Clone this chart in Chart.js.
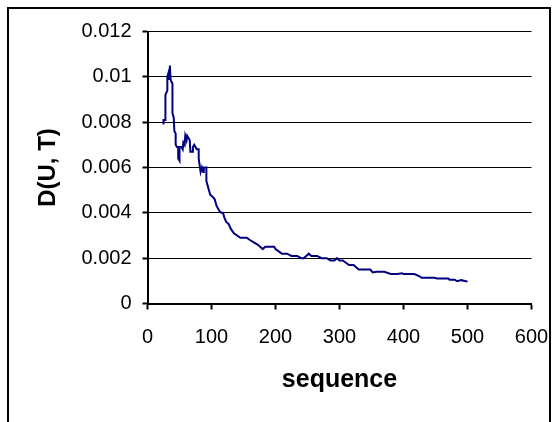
<!DOCTYPE html>
<html>
<head>
<meta charset="utf-8">
<script src="https://cdn.jsdelivr.net/npm/chart.js@4"></script>
<style>
  html, body { margin: 0; padding: 0; background: #fff; }
  #wrap { position: relative; width: 552px; height: 422px; }
</style>
</head>
<body>
<div id="wrap"><canvas id="myChart" width="552" height="422"></canvas></div>
<script>
// values
const seq = [25, 25, 28, 28, 31, 31, 33, 34, 35, 36, 37, 39, 39, 41, 42, 44, 44, 46, 48, 48,
  50, 50, 53, 55, 56, 58, 59, 61, 62, 64, 66, 67, 70, 71, 73, 75, 77, 80, 80, 82,
  83, 85, 87, 88, 92, 92, 94, 96, 98, 102, 105, 108, 110, 112, 115, 118, 120, 123, 127, 130,
  135, 140, 145, 150, 155, 160, 166, 172, 176, 180, 184, 190, 194, 198, 200, 205, 210, 218, 225, 234,
  240, 244, 248, 252, 256, 265, 272, 280, 286, 292, 296, 300, 305, 310, 315, 322, 326, 330, 340, 348,
  352, 358, 362, 370, 380, 390, 398, 400, 405, 415, 418, 425, 428, 440, 448, 452, 460, 470, 472, 480,
  484, 490, 496, 500];
const dut = [0.0079, 0.0081, 0.0081, 0.0092, 0.0094, 0.0100, 0.0102, 0.0099, 0.0105, 0.0099, 0.0098, 0.0097, 0.0084, 0.0082, 0.0076, 0.0075, 0.0070, 0.0069, 0.0069, 0.0064,
  0.0063, 0.0069, 0.0069, 0.0068, 0.0071, 0.0070, 0.0074, 0.0072, 0.0074, 0.0073, 0.0072, 0.0067, 0.0067, 0.0069, 0.0070, 0.0069, 0.0068, 0.0068, 0.0064, 0.0060,
  0.0058, 0.0060, 0.0058, 0.0060, 0.0060, 0.0054, 0.0052, 0.0050, 0.0048, 0.0047, 0.0046, 0.0043, 0.0042, 0.0041, 0.0040, 0.0040, 0.0038, 0.0036, 0.0035, 0.0033,
  0.0031, 0.0030, 0.0029, 0.0029, 0.0029, 0.0028, 0.0027, 0.0026, 0.0025, 0.0024, 0.0025, 0.0025, 0.0025, 0.0025, 0.0024, 0.0023, 0.0022, 0.0022, 0.0021, 0.0021,
  0.0020, 0.0020, 0.0021, 0.0022, 0.0021, 0.0021, 0.0020, 0.0020, 0.0019, 0.0019, 0.0020, 0.0019, 0.0019, 0.0018, 0.0017, 0.0017, 0.0016, 0.0015, 0.0015, 0.0015,
  0.00137, 0.0014, 0.0014, 0.0014, 0.0013, 0.0013, 0.00133, 0.0013, 0.0013, 0.0013, 0.00129, 0.0012, 0.00114, 0.00114, 0.00114, 0.0011, 0.0011, 0.0011, 0.00105, 0.00105,
  0.00098, 0.00103, 0.00099, 0.00097];
const xTicks = [0, 100, 200, 300, 400, 500, 600];
const yTicks = [0, 0.002, 0.004, 0.006, 0.008, 0.01, 0.012];

const points = seq.map((s, i) => ({ x: s, y: dut[i] }));
const fontFamily = "'Liberation Sans', Arial, sans-serif";

// the outer frame around the whole chart
const framePlugin = {
  id: 'frame',
  afterDraw(chart) {
    const c = chart.ctx;
    c.save();
    c.strokeStyle = '#000';
    c.lineWidth = 2;
    c.strokeRect(8, 8, 542, 440);
    c.restore();
  }
};

new Chart(document.getElementById('myChart'), {
  type: 'line',
  data: {
    datasets: [{
      data: points,
      borderColor: '#000080',
      borderWidth: 2,
      pointRadius: 0,
      fill: false,
      tension: 0
    }]
  },
  options: {
    responsive: false,
    animation: false,
    layout: { padding: { top: 31.5, right: 20.5, left: 0, bottom: 0 } },
    plugins: { legend: { display: false }, tooltip: { enabled: false } },
    scales: {
      x: {
        type: 'linear',
        min: 0,
        max: 600,
        afterBuildTicks: s => { s.ticks = xTicks.map(v => ({ value: v })); },
        afterFit: s => {
          s.height = 118.5;
          s.paddingLeft = 0;
          s.paddingRight = 0;
        },
        border: { color: '#000', width: 2 },
        grid: { drawOnChartArea: false, drawTicks: true, tickLength: 6, color: '#000', tickWidth: 2 },
        ticks: { color: '#000', padding: 16, maxRotation: 0, font: { family: fontFamily, size: 20 } },
        title: {
          display: true, text: 'sequence', color: '#000',
          font: { family: fontFamily, size: 25, weight: 'bold' },
          padding: { top: 0, bottom: 27 }
        }
      },
      y: {
        min: 0,
        max: 0.012,
        afterBuildTicks: s => { s.ticks = yTicks.map(v => ({ value: v })); },
        afterFit: s => { s.width = 147.5; },
        border: { color: '#000', width: 2 },
        grid: { color: '#000', lineWidth: 1, drawTicks: true, tickLength: 5, tickWidth: 2 },
        ticks: {
          color: '#000', padding: 11, font: { family: fontFamily, size: 20 },
          callback: v => String(Number(v.toFixed(3)))
        },
        title: {
          display: true, text: 'D(U, T)', color: '#000',
          font: { family: fontFamily, size: 24, weight: 'bold' },
          padding: { top: 34, bottom: 0 }
        }
      }
    }
  },
  plugins: [framePlugin]
});
</script>
</body>
</html>
